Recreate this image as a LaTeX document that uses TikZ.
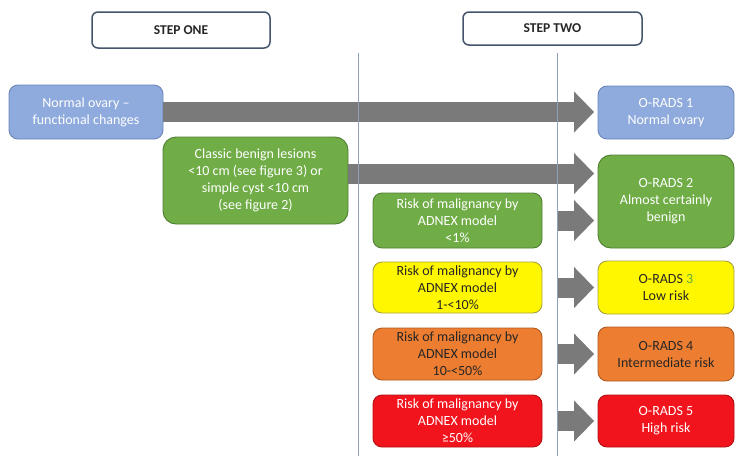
\documentclass[tikz,border=0pt]{standalone}
\usepackage{fontspec}
\setmainfont{Carlito}
\usetikzlibrary{arrows.meta}
\definecolor{hdrc}{HTML}{44546A}
\definecolor{vlinec}{HTML}{8FA0BC}
\definecolor{arrowc}{HTML}{7A7A7A}
\definecolor{bluef}{HTML}{8FAADC}
\definecolor{blued}{HTML}{6A86B8}
\definecolor{greenf}{HTML}{70AD47}
\definecolor{greend}{HTML}{507E32}
\definecolor{yellowf}{HTML}{FFF700}
\definecolor{yellowd}{HTML}{A8A040}
\definecolor{orangef}{HTML}{ED7D31}
\definecolor{oranged}{HTML}{AE5A21}
\definecolor{redf}{HTML}{F2141C}
\definecolor{redd}{HTML}{B01010}
\definecolor{darktext}{HTML}{262626}
\definecolor{greennum}{HTML}{5FAE35}
\begin{document}
\begin{tikzpicture}[x=1pt,y=-1pt,
  box/.style={draw, rounded corners=9pt, line width=0.9pt, align=center, inner sep=0pt,
    font=\fontsize{14}{17}\selectfont},
  bigbox/.style={rounded corners=13pt},
  bluebox/.style={box, fill=bluef, draw=blued, text=white},
  greenbox/.style={box, fill=greenf, draw=greend, text=white},
  yellowbox/.style={box, fill=yellowf, draw=yellowd, text=darktext},
  orangebox/.style={box, fill=orangef, draw=oranged, text=darktext},
  redbox/.style={box, fill=redf, draw=redd, text=white},
  hdr/.style={draw=hdrc, line width=1.5pt, rounded corners=6pt, fill=white,
    font=\fontsize{13.5}{16}\selectfont\bfseries, text=black!85},
  vline/.style={draw=vlinec, line width=0.9pt},
  bigarrow/.style={draw=arrowc, line width=20pt,
    -{Triangle[length=20pt,width=41pt,line width=0pt]}, shorten >=3.5pt},
]
\useasboundingbox (0,0) rectangle (735,456);

% vertical separators (coordinates)
\coordinate (v1t) at (358,53);
\coordinate (v1b) at (358,456);
\coordinate (v2t) at (557,53);
\coordinate (v2b) at (557,456);

% headers
\node[hdr, minimum width=178pt, minimum height=36pt] (s1) at (181,30) {STEP ONE};
\node[hdr, minimum width=179pt, minimum height=33pt] (s2) at (552.5,28.5) {STEP TWO};

% step one boxes
\node[bluebox, minimum width=154pt, minimum height=54pt] (n1) at (86,112)
  {Normal ovary \textendash\\functional changes};
\node[greenbox, bigbox, minimum width=185pt, minimum height=87pt] (n2) at (255.5,180.5)
  {Classic benign lesions\\<10 cm (see figure 3) or\\simple cyst <10 cm\\(see figure 2)};

% ADNEX boxes
\node[greenbox, minimum width=169pt, minimum height=55pt] (a1) at (457.5,220.5)
  {Risk of malignancy by\\ADNEX model\\<1\%};
\node[yellowbox, minimum width=169pt, minimum height=51pt] (a2) at (457.5,287.5)
  {Risk of malignancy by\\ADNEX model\\1-<10\%};
\node[orangebox, minimum width=169pt, minimum height=52pt] (a3) at (457.5,354)
  {Risk of malignancy by\\ADNEX model\\10-<50\%};
\node[redbox, minimum width=169pt, minimum height=52pt] (a4) at (457.5,421)
  {Risk of malignancy by\\ADNEX model\\≥50\%};

% O-RADS boxes
\node[bluebox, minimum width=136pt, minimum height=53pt] (o1) at (666,112.5)
  {O-RADS 1\\Normal ovary};
\node[greenbox, bigbox, minimum width=136pt, minimum height=93pt] (o2) at (666,201.5)
  {O-RADS 2\\Almost certainly\\benign};
\node[yellowbox, minimum width=136pt, minimum height=53pt] (o3) at (666,287.5)
  {O-RADS {\color{greennum}3}\\Low risk};
\node[orangebox, minimum width=136pt, minimum height=54pt] (o4) at (666,354)
  {O-RADS 4\\Intermediate risk};
\node[redbox, minimum width=136pt, minimum height=52pt] (o5) at (666,421)
  {O-RADS 5\\High risk};

% arrows
\draw[bigarrow] (n1.east) -- (n1.east -| o1.west);
\coordinate (n2out) at ([yshift=7pt]n2.east);
\draw[bigarrow] (n2out) -- (n2out -| o2.west);
\draw[bigarrow] (a1.east -| v2t) -- (a1.east -| o2.west);
\draw[bigarrow] (a2.east -| v2t) -- (a2.east -| o3.west);
\draw[bigarrow] (a3.east -| v2t) -- (a3.east -| o4.west);
\draw[bigarrow] (a4.east -| v2t) -- (a4.east -| o5.west);

% separator lines over the arrows
\draw[vline] (v1t) -- (v1b);
\draw[vline] (v2t) -- (v2b);
\end{tikzpicture}
\end{document}
